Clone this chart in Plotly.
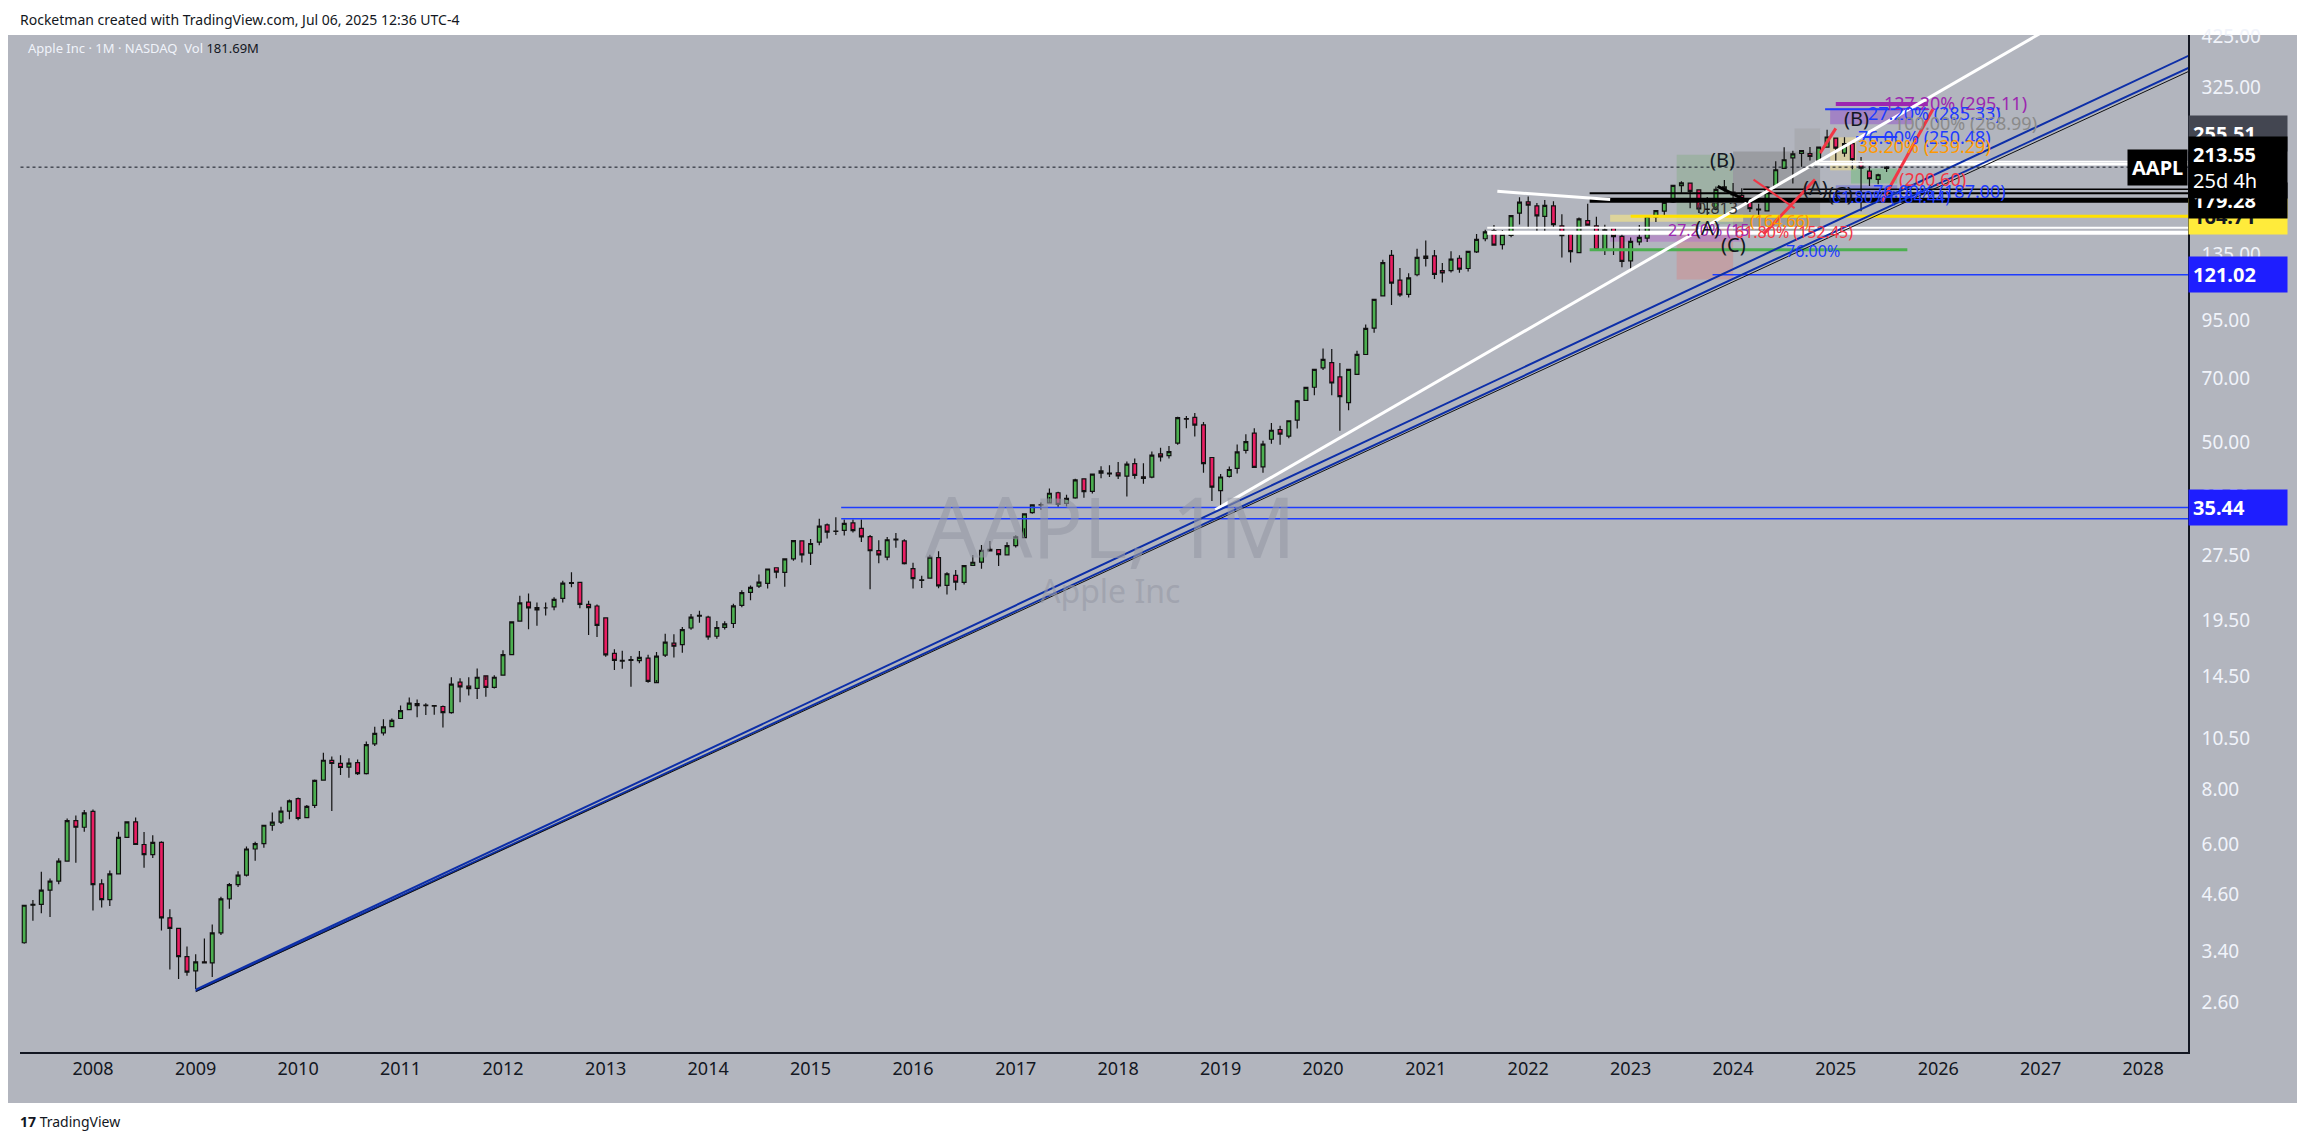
import math
import pandas as pd
import plotly.graph_objects as go

START = "2007-04-01"
opens = [3.33,3.56,4.34,4.36,4.70,4.93,5.48,6.78,6.55,
 7.12,4.86,4.47,5.12,6.21,6.74,5.98,5.67,6.05,4.06,3.84,3.31,
 3.07,3.22,3.20,3.75,4.49,4.84,5.09,5.84,6.01,6.62,6.73,7.13,
 7.62,6.89,7.35,8.40,9.32,9.18,9.00,9.21,8.69,10.17,10.78,11.14,
 11.63,12.19,12.58,12.49,12.45,12.39,11.99,14.09,13.80,13.64,14.57,13.71,
 14.62,16.29,19.45,21.50,20.89,20.86,20.96,21.92,23.74,23.86,21.25,21.06,
 19.78,16.40,15.75,15.87,15.79,16.00,14.06,16.25,17.31,17.17,18.75,19.95,
 19.85,17.95,18.82,19.20,21.14,22.64,23.38,23.73,25.77,25.16,27.01,29.70,
 27.85,29.51,32.31,31.21,31.39,32.66,31.73,30.38,28.21,27.27,29.97,29.69,
 25.65,24.12,24.41,27.20,23.49,24.75,23.87,26.10,26.54,28.18,28.37,27.59,
 28.95,30.23,34.47,35.93,36.28,38.29,36.22,37.28,41.20,38.56,42.47,42.49,
 42.54,41.79,44.63,41.66,41.60,46.99,46.57,49.78,56.63,56.99,54.76,46.12,
 38.72,41.74,43.57,47.91,52.47,43.90,50.79,53.47,51.61,56.18,62.38,66.82,
 74.06,76.07,70.57,61.63,71.56,79.44,91.28,108.20,134.08,117.64,109.11,121.01,
 133.52,133.75,123.75,123.66,132.04,125.08,136.60,146.36,152.83,141.90,148.99,167.48,
 177.83,174.01,164.70,174.03,156.71,149.90,136.04,161.01,156.64,138.21,155.08,148.21,
 130.28,143.97,146.83,164.27,169.28,177.70,193.78,196.24,189.49,171.22,171.00,190.33,
 187.15,183.99,179.55,171.19,169.58,192.90,212.09,224.37,229.52,229.34,220.97,237.27,
 248.93,229.99,241.79,219.81,209.08,200.28,212.14]
highs = [3.58,4.35,4.46,5.18,5.00,5.56,6.86,6.97,7.17,
 7.19,4.98,5.21,6.40,6.76,6.90,6.39,6.28,6.08,4.25,3.84,3.49,
 3.35,3.64,3.92,4.54,4.88,5.19,5.92,6.07,6.63,7.08,7.30,7.58,
 7.66,7.37,8.43,9.71,9.51,9.58,9.43,9.37,10.30,11.13,11.59,11.63,
 12.45,13.00,12.85,12.60,12.48,12.45,14.46,14.38,14.45,15.15,14.25,14.61,
 16.67,19.36,22.24,22.49,21.44,21.46,22.06,24.06,25.18,23.87,21.64,21.24,
 19.82,16.76,16.63,16.17,16.61,16.29,16.53,18.18,18.14,18.85,20.18,20.54,
 20.01,19.46,19.44,21.31,22.89,23.47,24.86,25.63,25.76,27.05,29.78,29.72,
 30.00,33.40,32.57,33.63,33.24,33.23,33.24,30.64,29.81,30.31,30.96,29.97,
 26.46,24.72,27.61,28.10,25.18,25.47,26.14,27.56,29.05,29.67,28.44,29.50,
 30.61,34.37,35.87,36.37,39.16,38.50,37.89,41.24,41.24,42.41,44.06,44.30,
 45.03,45.17,45.88,44.73,47.59,48.55,48.99,57.22,57.42,58.37,55.59,46.24,
 42.25,43.97,49.42,52.12,53.83,50.39,55.34,54.51,56.15,62.44,67.00,73.49,
 81.96,81.81,76.00,73.63,81.06,93.10,106.42,131.00,137.98,125.39,121.99,138.79,
 145.09,137.88,128.72,137.07,134.07,137.41,150.00,153.49,157.26,153.17,165.70,182.13,
 182.94,176.65,179.61,178.49,166.48,151.74,163.63,176.15,164.26,157.50,155.45,150.92,
 147.23,157.38,165.00,169.85,179.35,194.48,198.23,196.73,189.98,182.34,192.93,199.62,
 196.38,191.05,180.53,176.03,193.00,220.20,237.23,232.92,233.09,237.49,237.81,260.10,
 249.10,250.00,244.03,225.19,214.56,206.24,214.65]
lows = [3.16,3.54,4.00,4.16,4.08,4.85,5.48,5.43,6.40,
 4.22,4.29,4.32,5.13,6.20,5.99,5.29,5.57,3.80,3.09,2.94,2.99,
 2.79,3.19,2.97,3.71,4.26,4.78,5.05,5.49,5.88,6.43,6.66,6.83,
 6.80,6.90,7.25,8.39,7.14,8.63,8.51,8.63,8.65,10.06,10.63,11.13,
 11.60,12.15,11.70,11.85,11.86,11.09,11.92,12.67,13.13,12.89,13.05,13.63,
 14.62,16.24,19.37,18.62,18.97,20.02,20.58,21.45,23.25,20.82,18.06,17.87,
 16.11,15.02,15.12,13.75,15.57,14.05,14.25,16.09,16.04,16.46,18.58,19.28,
 17.63,17.72,18.60,18.74,20.93,21.70,23.15,23.10,24.38,23.30,26.75,26.48,
 26.16,29.02,30.09,30.65,30.54,31.05,29.51,23.00,26.38,26.83,28.66,26.21,
 23.10,23.15,24.36,23.13,22.37,22.88,23.59,26.01,25.63,28.08,26.02,27.56,
 28.69,31.75,34.27,35.01,37.43,35.55,35.60,37.10,37.29,38.12,41.32,41.62,
 41.18,37.56,41.24,40.16,41.32,45.18,45.85,49.33,53.83,51.52,42.56,36.65,
 35.50,41.48,42.38,47.10,43.75,42.57,49.60,49.33,51.06,53.78,62.29,64.07,
 73.19,64.09,53.15,59.22,71.46,79.30,89.14,107.89,103.10,107.72,107.32,120.01,
 126.38,118.39,116.21,122.49,122.25,123.13,135.76,144.50,141.27,138.27,147.48,157.80,
 154.70,152.00,150.10,155.38,132.61,129.04,135.66,157.14,138.00,134.37,134.38,125.87,
 124.17,141.32,143.90,159.78,164.31,176.93,186.60,171.96,167.62,165.67,170.12,187.45,
 180.17,179.25,168.49,164.08,169.11,192.15,211.92,196.00,213.92,221.33,219.71,237.16,
 219.38,225.70,211.28,169.21,193.25,195.07,208.27]
closes = [3.56,4.34,4.36,4.70,4.93,5.48,6.78,6.55,7.07,
 4.84,4.47,5.12,6.21,6.74,5.98,5.67,6.05,4.06,3.84,3.31,3.05,
 3.22,3.20,3.75,4.49,4.84,5.09,5.84,6.01,6.62,6.73,7.13,7.53,
 6.86,7.31,8.39,9.33,9.17,8.98,9.19,8.69,10.13,10.75,11.13,11.52,
 12.12,12.61,12.45,12.44,12.42,11.99,13.94,13.74,13.62,14.46,13.70,14.46,
 16.30,19.37,21.41,20.86,20.63,20.86,21.81,23.76,23.83,21.25,20.88,19.01,
 16.27,15.81,15.81,15.81,16.06,14.15,16.16,17.40,17.03,18.60,19.86,20.04,
 17.88,18.80,19.17,21.07,22.61,23.23,23.90,25.60,25.19,27.00,29.73,27.59,
 29.29,32.12,31.11,31.29,32.57,31.36,30.33,28.19,27.58,29.88,29.84,26.32,
 24.33,24.17,27.25,23.43,24.97,23.90,26.05,26.53,28.26,28.39,27.63,28.95,
 30.34,34.25,35.92,35.91,38.19,36.00,37.18,41.00,38.53,42.26,42.96,42.31,
 41.86,44.53,41.95,41.31,46.72,46.28,47.57,56.91,56.44,54.72,44.65,39.44,
 41.61,43.29,47.49,50.17,43.77,49.48,53.26,52.19,55.99,62.19,66.81,73.41,
 77.38,68.34,63.57,73.45,79.49,91.20,106.26,129.04,115.81,108.86,119.05,132.69,
 131.96,121.26,122.15,131.46,124.61,136.96,145.86,151.83,141.50,149.80,165.30,177.57,
 174.78,165.12,174.61,157.65,148.84,136.72,162.51,157.22,138.20,153.34,148.03,129.93,
 144.29,147.41,164.90,169.68,177.25,193.97,196.45,187.87,171.21,170.77,189.95,192.53,
 184.40,180.75,171.48,170.33,192.25,210.62,222.08,229.00,233.00,225.91,237.33,250.42,
 236.00,241.84,222.13,212.50,200.85,205.17,213.55]

tick_vals = [2.60,3.40,4.60,6.00,8.00,10.50,14.50,19.50,27.50,37.50,50.00,70.00,95.00,135.00,325.00,425.00]
year_ticks = [str(y) for y in range(2008, 2029)]

dates = pd.date_range(START, periods=len(closes), freq="MS")

BG = "#b2b5be"
fig = go.Figure()

def d(yf):
    y = int(yf); frac = yf - y
    return (pd.Timestamp(f"{y}-01-01") + pd.Timedelta(days=frac * 365.25)).strftime("%Y-%m-%d")

def L(v):
    return math.log10(v)

boxes = [
    (2023.45, 2024.0, 158, 228, "rgba(120,170,120,0.35)"),
    (2024.0, 2024.85, 150, 232, "rgba(110,110,110,0.35)"),
    (2024.6, 2024.85, 232, 262, "rgba(150,150,150,0.3)"),
    (2023.45, 2024.0, 118, 155, "rgba(220,120,120,0.35)"),
    (2024.95, 2025.75, 268, 292, "rgba(150,90,200,0.55)"),
    (2024.95, 2025.2, 210, 250, "rgba(240,220,140,0.55)"),
    (2025.15, 2025.6, 196, 212, "rgba(110,190,120,0.5)"),
    (2025.0, 2025.6, 181, 194, "rgba(90,90,220,0.45)"),
    (2022.8, 2024.1, 160, 166, "rgba(240,225,140,0.7)"),
    (2022.8, 2024.1, 144, 149, "rgba(180,120,200,0.6)"),
]
for x0, x1, y0, y1, c in boxes:
    fig.add_shape(type="rect", xref="x", yref="y", x0=d(x0), x1=d(x1), y0=y0, y1=y1,
                  fillcolor=c, line_width=0, layer="below")

def seg(x0, y0, x1, y1, color, w=2, dash="solid"):
    fig.add_trace(go.Scatter(x=[d(x0), d(x1)], y=[y0, y1], mode="lines",
                             line=dict(color=color, width=w, dash=dash), hoverinfo="skip", showlegend=False))

XR = 2028.44
seg(2015.3, 35.44, XR, 35.44, "#1e3cff", 1.5)
seg(2015.3, 33.4, XR, 33.4, "#1e3cff", 1.5)
seg(2023.8, 121.02, XR, 121.02, "#1e3cff", 1.5)
seg(2021.6, 151, XR, 151, "white", 4)
seg(2021.6, 155, XR, 155, "white", 2)
seg(2023.0, 164.71, XR, 164.71, "#ffe100", 3)
seg(2022.6, 179.28, XR, 179.28, "black", 5)
seg(2022.6, 186, XR, 186, "black", 2)
seg(2024.1, 190, XR, 190, "black", 1.5)
seg(2024.8, 217, XR, 217, "white", 3)
seg(2024.8, 220, XR, 220, "white", 1.5)
seg(2021.7, 188, 2022.8, 180, "white", 3)
seg(2024.9, 290, 2025.9, 290, "#1e3cff", 2)
seg(2025.0, 298, 2025.9, 298, "#9c27b0", 4)
seg(2025.2, 250.48, 2025.6, 250.48, "#1e3cff", 2)
seg(2022.6, 138, 2025.7, 138, "#4caf50", 3)

seg(2018.95, 35, 2027.05, 440, "white", 3)
seg(2009.0, 2.78, 2028.6, 400, "#0d2fa8", 2)
seg(2009.0, 2.76, 2028.6, 375, "#0d2fa8", 2)
seg(2009.0, 2.75, 2028.6, 368, "#111111", 1)
seg(2024.3, 150, 2024.8, 200, "#f23645", 3)
seg(2024.85, 230, 2025.0, 262, "#f23645", 3)
seg(2025.45, 178, 2025.95, 290, "#f23645", 3)
seg(2024.2, 200, 2024.6, 172, "#f23645", 2)
seg(2023.85, 193, 2024.15, 178, "black", 3)

fig.add_trace(go.Candlestick(
    x=dates, open=opens, high=highs, low=lows, close=closes,
    increasing=dict(line=dict(color="#111111", width=1.2), fillcolor="#4caf50"),
    decreasing=dict(line=dict(color="#111111", width=1.2), fillcolor="#e91e63"),
    whiskerwidth=0, showlegend=False, hoverinfo="skip"))

seg(2007.0, 213.55, XR, 213.55, "#131722", 1, "dot")

ann = []
def A(x, y, text, color, size=18, **kw):
    ann.append(dict(x=d(x), y=L(y), xref="x", yref="y", text=text, showarrow=False,
                    font=dict(color=color, size=size, family="Noto Sans"), **kw))

A(2025.45, 300, "127.20% (295.11)", "#9c27b0", 18, xanchor="left")
A(2025.3, 284, "27.20% (285.33)", "#1e3cff", 18, xanchor="left")
A(2025.55, 268.99, "100.00% (268.99)", "#8a8a8a", 18, xanchor="left")
A(2025.2, 250.48, "76.00% (250.48)", "#1e3cff", 18, xanchor="left")
A(2025.2, 239, "38.20% (239.29)", "#ff9800", 18, xanchor="left")
A(2025.6, 200.6, "(200.60)", "#f23645", 18, xanchor="left")
A(2025.35, 188.5, "76.00% (187.00)", "#1e3cff", 18, xanchor="left")
A(2024.95, 182, "61.80% (184.44)", "#1e3cff", 16, xanchor="left")
A(2024.0, 152.0, "61.80% (152.45)", "#f23645", 16, xanchor="left")
A(2024.5, 137, "76.00%", "#1e3cff", 16, xanchor="left")
A(2024.15, 161, "(164.66)", "#ff9800", 16, xanchor="left")
A(2023.35, 153, "27.20% (15", "#9c27b0", 16, xanchor="left")
A(2025.2, 276, "(B)", "#131722", 20)
A(2023.9, 222, "(B)", "#131722", 20)
A(2023.85, 172, "0.813", "#333333", 16)
A(2023.75, 155, "(A)", "#131722", 20)
A(2024.0, 142, "(C)", "#131722", 20)
A(2024.8, 192, "(A)", "#131722", 20)
A(2025.05, 186, "(C)", "#131722", 20)

def P(y, text, bg, fc="white"):
    ann.append(dict(x=1.0, xref="paper", y=L(y), yref="y", text=f"<b>{text}</b>", showarrow=False,
                    xanchor="left", bgcolor=bg, font=dict(color=fc, size=20, family="Noto Sans"),
                    borderpad=4, width=90, align="left"))

P(164.71, "164.71", "#ffeb3b", "#131722")
P(179.28, "179.28", "#000000")
P(255.51, "255.51", "#434651")
P(121.02, "121.02", "#1e1eff")
P(35.44, "35.44", "#1e1eff")
ann.append(dict(x=1.0, xref="paper", y=L(213.55), yref="y", yanchor="middle",
                text="<b>213.55</b><br>25d 4h", showarrow=False, xanchor="left",
                bgcolor="#000000", font=dict(color="white", size=20, family="Noto Sans"),
                borderpad=4, width=90, align="left"))
ann.append(dict(x=1.0, xref="paper", y=L(213.55), yref="y", text="<b>AAPL</b>", showarrow=False,
                xanchor="right", bgcolor="#000000", font=dict(color="white", size=20, family="Noto Sans"),
                borderpad=4))

W, H = 2305, 1132
ml, mr, mt, mb = 12, 125, 27, 88
pw, ph = W - ml - mr, H - mt - mb
def px(xp): return (xp - ml) / pw
def py(yp): return (H - mb - yp) / ph

ann.append(dict(x=px(1102), y=py(517), xref="paper", yref="paper", text="AAPL, 1M", showarrow=False,
                font=dict(size=84, color="rgba(150,153,165,0.6)", family="Noto Sans")))
ann.append(dict(x=px(1102), y=py(582), xref="paper", yref="paper", text="Apple Inc", showarrow=False,
                font=dict(size=32, color="rgba(150,153,165,0.6)", family="Noto Sans")))
ann.append(dict(x=px(10), y=py(12), xref="paper", yref="paper", xanchor="left", yanchor="middle",
                text="Rocketman created with TradingView.com, Jul 06, 2025 12:36 UTC-4", showarrow=False,
                font=dict(size=14, color="#131722", family="Noto Sans")))
ann.append(dict(x=px(18), y=py(40), xref="paper", yref="paper", xanchor="left", yanchor="middle",
                text="Apple Inc · 1M · NASDAQ  Vol <span style='color:#131722'>181.69M</span>", showarrow=False,
                font=dict(size=13, color="#f0f3fa", family="Noto Sans")))
ann.append(dict(x=px(10), y=py(1113), xref="paper", yref="paper", xanchor="left", yanchor="middle",
                text="<b>17</b> TradingView", showarrow=False,
                font=dict(size=14, color="#131722", family="Noto Sans")))

fig.add_shape(type="rect", xref="paper", yref="paper", x0=px(0), x1=px(2290), y0=py(1095), y1=py(27),
              fillcolor=BG, line_width=0, layer="below")

fig.update_layout(
    width=W, height=H, margin=dict(l=ml, r=mr, t=mt, b=mb),
    paper_bgcolor="white", plot_bgcolor=BG, annotations=ann,
    xaxis=dict(type="date", range=[d(2007.29), d(XR)], rangeslider=dict(visible=False),
               showgrid=False, zeroline=False, showline=True, linecolor="#131722", linewidth=1.5,
               tickvals=[f"{y}-01-01" for y in year_ticks], ticktext=year_ticks,
               tickfont=dict(size=18, color="#131722", family="Noto Sans"), ticks=""),
    yaxis=dict(type="log", side="right", range=[math.log10(2.0), math.log10(429)],
               showgrid=False, zeroline=False, showline=True, linecolor="#131722", linewidth=1.5,
               tickvals=tick_vals, ticktext=[f"{v:.2f}" for v in tick_vals],
               tickfont=dict(size=19, color="#f0f3fa", family="Noto Sans"), ticks="", ticklabelstandoff=8),
)
fig.write_html("out.html")
